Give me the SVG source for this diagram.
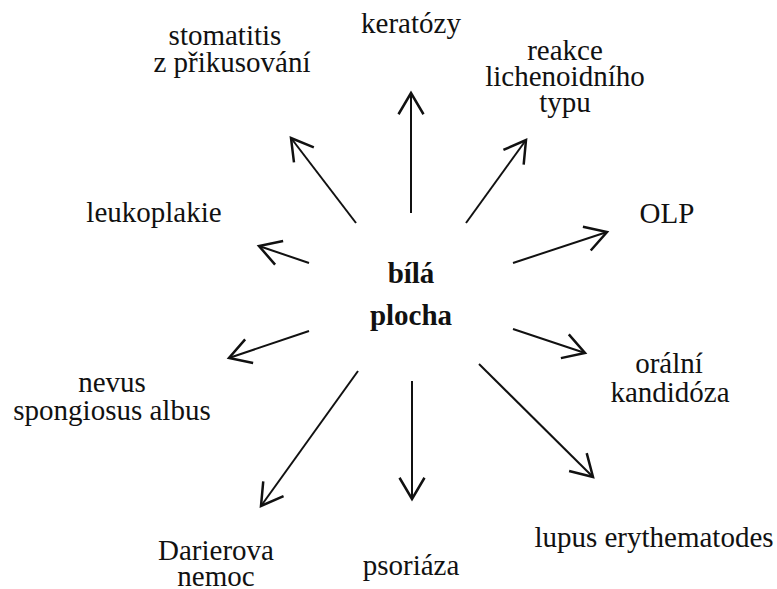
<svg xmlns="http://www.w3.org/2000/svg" width="777" height="589" viewBox="0 0 777 589">
<style>
.t{font-family:'Liberation Serif','Times New Roman',Times,'DejaVu Serif',serif;font-size:29px;fill:#111;text-anchor:middle}
.b{font-weight:bold}
.c line{stroke:#111;stroke-width:2;fill:none}
</style>
<defs>
<marker id="ah" markerUnits="userSpaceOnUse" markerWidth="30" markerHeight="30" viewBox="-20 -12 22 24" refX="0" refY="0" orient="auto">
<path d="M-17,-10 L0,0 L-17,10" fill="none" stroke="#111" stroke-width="2"/>
</marker>
</defs>
<rect width="777" height="589" fill="#fff"/>
<g id="connectors" class="c">
<line x1="411" y1="213" x2="411" y2="93" marker-end="url(#ah)"/>
<line x1="356" y1="223" x2="291" y2="138" marker-end="url(#ah)"/>
<line x1="466" y1="223" x2="526" y2="140" marker-end="url(#ah)"/>
<line x1="309" y1="263" x2="259" y2="246" marker-end="url(#ah)"/>
<line x1="513" y1="263" x2="607" y2="232" marker-end="url(#ah)"/>
<line x1="309" y1="331" x2="229" y2="358" marker-end="url(#ah)"/>
<line x1="513" y1="329" x2="585" y2="353" marker-end="url(#ah)"/>
<line x1="358" y1="371" x2="261" y2="506" marker-end="url(#ah)"/>
<line x1="412" y1="381" x2="412" y2="499" marker-end="url(#ah)"/>
<line x1="479" y1="364" x2="593" y2="477" marker-end="url(#ah)"/>
</g>
<g id="center"><text class="t b" x="411" y="283">bílá</text><text class="t b" x="411" y="325">plocha</text></g>
<g id="keratozy"><text class="t" x="411" y="33">keratózy</text></g>
<g id="stomatitis"><text class="t" x="225" y="45">stomatitis</text><text class="t" x="232" y="72">z přikusování</text></g>
<g id="reakce"><text class="t" x="565" y="60">reakce</text><text class="t" x="565" y="86">lichenoidního</text><text class="t" x="565" y="112">typu</text></g>
<g id="leukoplakie"><text class="t" x="154" y="222">leukoplakie</text></g>
<g id="olp"><text class="t" x="667" y="223">OLP</text></g>
<g id="nevus"><text class="t" x="112" y="392">nevus</text><text class="t" x="112" y="420">spongiosus albus</text></g>
<g id="kandidoza"><text class="t" x="669" y="373">orální</text><text class="t" x="670" y="402">kandidóza</text></g>
<g id="darierova"><text class="t" x="216" y="560">Darierova</text><text class="t" x="216" y="586">nemoc</text></g>
<g id="psoriaza"><text class="t" x="411" y="575">psoriáza</text></g>
<g id="lupus"><text class="t" x="654" y="547">lupus erythematodes</text></g>
</svg>
